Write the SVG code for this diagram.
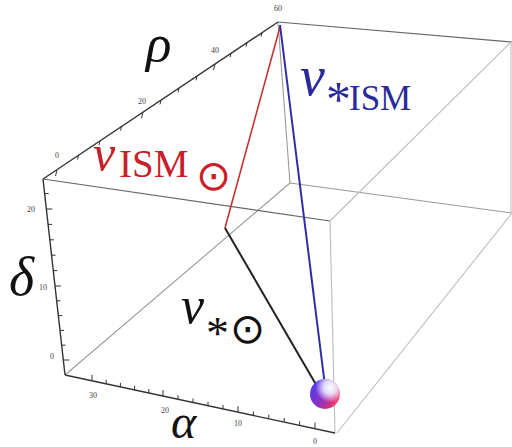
<svg xmlns="http://www.w3.org/2000/svg" width="512" height="447" viewBox="0 0 512 447">
<style>
.edge{stroke:#9a9a9a;stroke-width:1.1;fill:none}
.edgeL{stroke:#bdbdbd;stroke-width:1.1;fill:none}
.edgeD{stroke:#666;stroke-width:1.2;fill:none}
.axis{stroke:#333;stroke-width:1.4;fill:none}
.tick{stroke:#333;stroke-width:1;fill:none}
.tl{font-family:"Liberation Serif",serif;font-size:8px;fill:#444;text-anchor:middle}
.big{font-family:"Liberation Serif",serif;font-style:italic}
.sub{font-family:"Liberation Serif",serif}
.odot{font-family:"DejaVu Sans",sans-serif}
</style>
<defs>
<linearGradient id="sb" x1="0" y1="0.2" x2="1" y2="0.8">
<stop offset="0" stop-color="#4838f0"/>
<stop offset="0.45" stop-color="#8a3ee0"/>
<stop offset="0.8" stop-color="#e8357a"/>
<stop offset="1" stop-color="#ff5a70"/>
</linearGradient>
<radialGradient id="sh" cx="0.68" cy="0.28" r="0.5">
<stop offset="0" stop-color="#ffffff" stop-opacity="1"/>
<stop offset="0.45" stop-color="#eef4ff" stop-opacity="0.85"/>
<stop offset="1" stop-color="#ffffff" stop-opacity="0"/>
</radialGradient>
<radialGradient id="sd" cx="0.35" cy="0.8" r="0.6">
<stop offset="0" stop-color="#7a1a8a" stop-opacity="0.35"/>
<stop offset="1" stop-color="#7a1a8a" stop-opacity="0"/>
</radialGradient>
</defs>
<rect width="512" height="447" fill="#fff"/>

<g id="box">
<line class="edge" x1="290" y1="183" x2="65" y2="375"/>
<line class="edge" x1="278" y1="22" x2="290" y2="183"/>
<line class="edge" x1="290" y1="183" x2="512" y2="213"/>
<line class="edgeD" x1="278" y1="22" x2="512" y2="42"/>
<line class="edgeL" x1="511" y1="42" x2="330" y2="221"/>
<line class="edgeL" x1="512" y1="213" x2="337" y2="433"/>
<line class="edgeL" x1="511" y1="42" x2="511" y2="213"/>
<line class="edgeD" x1="43" y1="179" x2="330" y2="221"/>
<line class="edgeL" x1="330" y1="221" x2="335" y2="433"/>
</g>

<g id="axis-rho">
<line class="axis" x1="43" y1="179" x2="278" y2="22"/>
<path class="tick" d="M57,170 l-1.5,6 M143,112 l-1.5,6 M215,64 l-1.5,6 M78.5,155.6 l-1,4 M100,141 l-1,4 M121.5,126.6 l-1,4 M161,100.3 l-1,4 M179,88.3 l-1,4 M197,76.3 l-1,4 M231,53.4 l-1,4 M247,42.7 l-1,4 M262,32.7 l-1,4"/>
<text class="tl" x="57" y="158">0</text>
<text class="tl" x="142" y="104">20</text>
<text class="tl" x="215" y="53">40</text>
<text class="tl" x="278" y="11">60</text>
</g>

<g id="axis-delta">
<line class="axis" x1="43" y1="179" x2="65" y2="375"/>
<path class="tick" d="M63.3,360 h6 M55,286 h6 M46.4,209 h6 M61.6,345.2 h4 M60,330.4 h4 M58.3,315.6 h4 M56.6,300.8 h4 M53.3,270.6 h4 M51.6,255.2 h4 M49.8,239.8 h4 M48.1,224.4 h4 M44.7,193.6 h4"/>
<text class="tl" x="31" y="212">20</text>
<text class="tl" x="43" y="290">10</text>
<text class="tl" x="52" y="359">0</text>
</g>

<g id="axis-alpha">
<line class="axis" x1="65" y1="375" x2="335" y2="433"/>
<path class="tick" d="M92,380.8 v-6 M163,396 v-6 M238,412.2 v-6 M315,428.7 v-6 M106.2,383.9 v-4 M120.4,386.9 v-4 M134.6,389.9 v-4 M148.8,393 v-4 M178,399.3 v-4 M193,402.5 v-4 M208,405.7 v-4 M223,409 v-4 M253.4,415.4 v-4 M268.8,418.7 v-4 M284.2,422 v-4 M299.6,425.3 v-4"/>
<text class="tl" x="93" y="398">30</text>
<text class="tl" x="165" y="413">20</text>
<text class="tl" x="238" y="426">10</text>
<text class="tl" x="315" y="444">0</text>
</g>

<g id="connectors">
<line x1="280" y1="27" x2="225" y2="228" stroke="#c83232" stroke-width="1.6"/>
<line x1="225" y1="228" x2="318" y2="388" stroke="#222" stroke-width="2"/>
<line x1="280" y1="25" x2="325" y2="386" stroke="#2e2ea8" stroke-width="2"/>
</g>

<g id="sun">
<circle cx="325" cy="394" r="15" fill="url(#sb)"/>
<circle cx="325" cy="394" r="15" fill="url(#sd)"/>
<circle cx="325" cy="394" r="15" fill="url(#sh)"/>
</g>

<g id="labels">
<text class="big" x="146" y="61" font-size="53" fill="#111">ρ</text>
<text class="big" x="9" y="295" font-size="54" fill="#111">δ</text>
<text class="big" x="171" y="438" font-size="48" fill="#111">α</text>

<g id="v-ism-sun" fill="#c82028">
<text class="big" x="93" y="170" font-size="50">v</text>
<text class="sub" x="119" y="177" font-size="39">ISM</text>
<text class="odot" x="196" y="190" font-size="42">⊙</text>
</g>

<g id="v-star-ism" fill="#2a2a9a">
<text class="big" x="300" y="95" font-size="56">v</text>
<text class="sub" x="326" y="116" font-size="50">*</text>
<text class="sub" x="349" y="110" font-size="35">ISM</text>
</g>

<g id="v-star-sun" fill="#111">
<text class="big" x="181" y="323" font-size="52">v</text>
<text class="sub" x="206" y="349" font-size="46">*</text>
<text class="odot" x="230" y="343" font-size="42">⊙</text>
</g>
</g>
</svg>
